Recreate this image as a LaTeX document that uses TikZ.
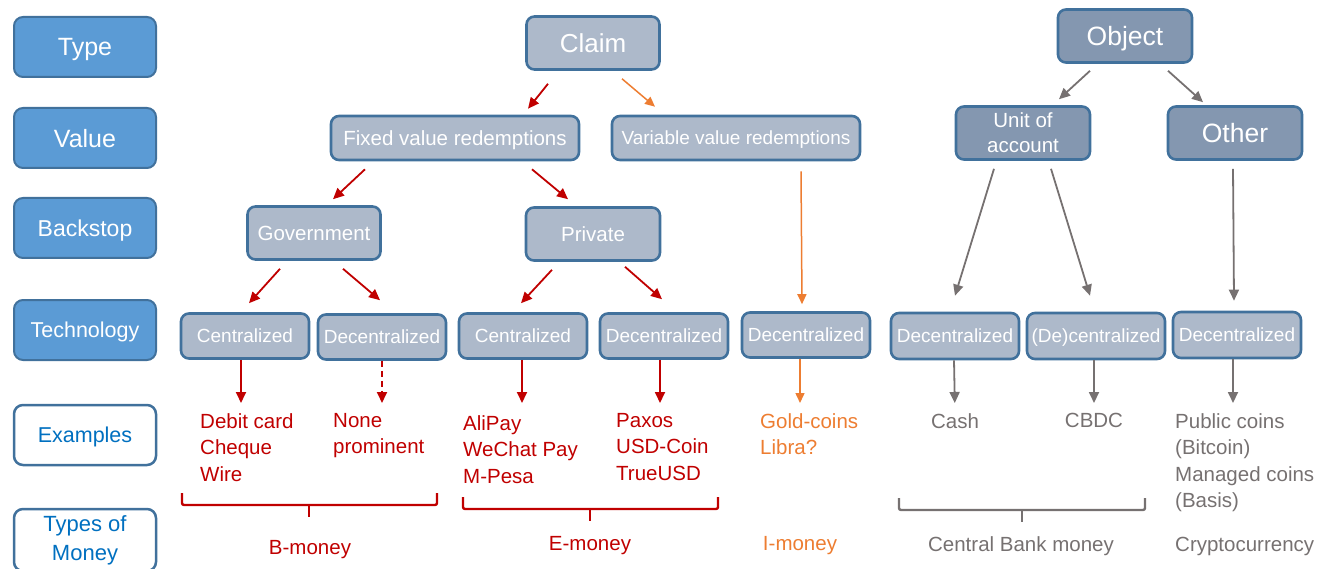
\documentclass[tikz,border=0pt]{standalone}
\usepackage{fontspec}
\setmainfont{Liberation Sans}
\usetikzlibrary{arrows.meta}
\definecolor{lblue}{HTML}{5B9BD5}
\definecolor{bord}{HTML}{41719C}
\definecolor{gbox}{HTML}{ADB9CA}
\definecolor{dbox}{HTML}{8497B0}
\definecolor{mred}{HTML}{C00000}
\definecolor{morange}{HTML}{ED7D31}
\definecolor{mgray}{HTML}{767171}
\definecolor{tblue}{HTML}{0070C0}
\newcommand\fsz[2]{\fontsize{#1}{#2}\selectfont}
\begin{document}
\begin{tikzpicture}[x=1pt,y=-1pt,
  rowbox/.style={draw=bord, line width=2pt, fill=lblue, rounded corners=9pt,
    minimum width=142pt, minimum height=60pt, text=white, inner sep=0pt, align=center},
  rowboxw/.style={rowbox, fill=white, text=tblue, line width=2.5pt},
  gbx/.style={draw=bord, line width=2.6pt, fill=gbox, rounded corners=8pt,
    text=white, inner sep=0pt, align=center, font=\fsz{19}{22}},
  dbx/.style={gbx, fill=dbox},
  oneline/.style={text depth=0pt},
  extext/.style={anchor=north west, inner sep=0pt, align=left, font=\fsz{20.5}{26.5}},
  montext/.style={anchor=base, inner sep=0pt, font=\fsz{20.5}{24}},
  rarr/.style={draw=mred, line width=1.8pt, -{Triangle[length=11pt,width=10pt]}},
  oarr/.style={draw=morange, line width=1.5pt, -{Triangle[length=10pt,width=9pt]}},
  garr/.style={draw=mgray, line width=1.8pt, -{Triangle[length=11pt,width=10pt]}},
  brace/.style={line width=2.4pt, rounded corners=2pt}
]
\useasboundingbox (0,0) rectangle (1319,569);

% left column
\node[rowbox, oneline, font=\fsz{25}{28}] (rtype) at (85,47) {Type};
\node[rowbox, oneline, font=\fsz{25}{28}] (rvalue) at (85,138) {Value};
\node[rowbox, oneline, font=\fsz{23}{26}] (rback) at (85,228) {Backstop};
\node[rowbox, oneline, font=\fsz{21.5}{24}] (rtech) at (85,330) {Technology};
\node[rowboxw, oneline, font=\fsz{21.5}{24}] (rex) at (85,435) {Examples};
\node[rowboxw, minimum height=62pt, font=\fsz{22}{29}] (rtypes) at (85,540) {Types of\\Money};

% claim tree
\node[gbx, oneline, minimum width=133pt, minimum height=53pt, font=\fsz{26}{28}] (claim) at (593,43) {Claim};
\node[gbx, oneline, minimum width=248pt, minimum height=44pt, font=\fsz{20.5}{24}] (fixed) at (455,138) {Fixed value redemptions};
\node[gbx, oneline, minimum width=248pt, minimum height=44pt, font=\fsz{19}{22}] (variable) at (736,138) {Variable value redemptions};
\node[gbx, oneline, minimum width=133pt, minimum height=53pt, font=\fsz{20.5}{24}] (gov) at (314,233) {Government};
\node[gbx, oneline, minimum width=134pt, minimum height=53pt, font=\fsz{20.5}{24}] (priv) at (593,234) {Private};
\node[gbx, oneline, minimum width=128pt, minimum height=45pt] (c1) at (245,336) {Centralized};
\node[gbx, oneline, minimum width=128pt, minimum height=45pt] (d1) at (382,337) {Decentralized};
\node[gbx, oneline, minimum width=128pt, minimum height=45pt] (c2) at (523,336) {Centralized};
\node[gbx, oneline, minimum width=128pt, minimum height=45pt] (d2) at (664,336) {Decentralized};
\node[gbx, oneline, minimum width=128pt, minimum height=45pt] (d3) at (806,335) {Decentralized};
\node[gbx, oneline, minimum width=128pt, minimum height=46pt] (d4) at (955,336) {Decentralized};
\node[gbx, oneline, minimum width=138pt, minimum height=46pt] (dc) at (1096,336) {(De)centralized};
\node[gbx, oneline, minimum width=128pt, minimum height=46pt] (d5) at (1237,335) {Decentralized};

% object tree
\node[dbx, oneline, minimum width=134pt, minimum height=53pt, font=\fsz{26.5}{28}] (object) at (1125,36) {Object};
\node[dbx, minimum width=134pt, minimum height=53pt, font=\fsz{20.5}{25}] (unit) at (1023,133) {Unit of\\account};
\node[dbx, oneline, minimum width=134pt, minimum height=53pt, font=\fsz{26.5}{28}] (other) at (1235,133) {Other};

% arrows
\draw[rarr] ([shift={(-45,13)}]claim.south) -- ([shift={(73,-6)}]fixed.north);
\draw[oarr] ([shift={(29,8)}]claim.south) -- ([shift={(-81,-8)}]variable.north);
\draw[rarr] ([shift={(-90,8)}]fixed.south) -- ([shift={(19,-6)}]gov.north);
\draw[rarr] ([shift={(77,8)}]fixed.south) -- ([shift={(-25,-7)}]priv.north);
\draw[rarr] ([shift={(-34,8)}]gov.south) -- ([shift={(4,-9)}]c1.north);
\draw[rarr] ([shift={(29,8)}]gov.south) -- ([shift={(-2,-13)}]d1.north);
\draw[rarr] ([shift={(-41,8)}]priv.south) -- ([shift={(-2,-9)}]c2.north);
\draw[rarr] ([shift={(32,5)}]priv.south) -- ([shift={(-2,-13)}]d2.north);
\draw[oarr] ([shift={(65,10)}]variable.south) -- ([shift={(-4,-7)}]d3.north);
\draw[garr] ([shift={(-35,7)}]object.south) -- ([shift={(36,-6)}]unit.north);
\draw[garr] ([shift={(43,7)}]object.south) -- ([shift={(-32,-3)}]other.north);
\draw[garr] ([shift={(-29,8)}]unit.south) -- ([shift={(0,-16)}]d4.north);
\draw[garr] ([shift={(28,8)}]unit.south) -- ([shift={(-6,-16)}]dc.north);
\draw[garr] ([shift={(-2,8)}]other.south) -- ([shift={(-3,-10)}]d5.north);

% examples
\node[extext, text=mred] (ex1) at (200,413) {Debit card\\Cheque\\Wire};
\node[extext, text=mred] (ex2) at (333,413) {None\\prominent};
\node[extext, text=mred] (ex3) at (463,415) {AliPay\\WeChat Pay\\M-Pesa};
\node[extext, text=mred] (ex4) at (616,413) {Paxos\\USD-Coin\\TrueUSD};
\node[extext, text=morange] (ex5) at (760,413) {Gold-coins\\Libra?};
\node[extext, anchor=north, text=mgray] (ex6) at (955,413) {Cash};
\node[extext, anchor=north, text=mgray] (ex7) at (1094,413) {CBDC};
\node[extext, text=mgray] (ex8) at (1175,413) {Public coins\\(Bitcoin)\\Managed coins\\(Basis)};

\draw[rarr, shorten >=10pt] ([xshift=-4]c1.south) -- ([xshift=-4]c1.south |- ex1.north);
\draw[rarr, shorten >=10pt, dash pattern=on 6pt off 4pt] (d1.south) -- (d1.south |- ex2.north);
\draw[rarr, shorten >=12pt] ([xshift=-1]c2.south) -- ([xshift=-1]c2.south |- ex3.north);
\draw[rarr, shorten >=10pt] ([xshift=-4]d2.south) -- ([xshift=-4]d2.south |- ex4.north);
\draw[oarr, shorten >=10pt] ([xshift=-6]d3.south) -- ([xshift=-6]d3.south |- ex5.north);
\draw[garr, shorten >=10pt] ([xshift=-1]d4.south) -- (ex6.north);
\draw[garr, shorten >=10pt] ([xshift=-2]dc.south) -- (ex7.north);
\draw[garr, shorten >=10pt] ([xshift=-4]d5.south) -- ([xshift=-4]d5.south |- ex8.north);

% braces
\draw[brace, mred] (182,493) -- (182,505) -- (437,505) -- (437,493);
\draw[brace, mred, rounded corners=0pt] (309,505) -- (309,517);
\draw[brace, mred] (463,497) -- (463,509) -- (718,509) -- (718,497);
\draw[brace, mred, rounded corners=0pt] (590,509) -- (590,521);
\draw[brace, mgray] (899,498) -- (899,510) -- (1145,510) -- (1145,498);
\draw[brace, mgray, rounded corners=0pt] (1022,510) -- (1022,522);

% money types
\node[montext, text=mred] (mb) at (310,554) {B-money};
\node[montext, text=mred] (me) at (590,550) {E-money};
\node[montext, text=morange] (mi) at (800,550) {I-money};
\node[montext, text=mgray] (mc) at (1021,551) {Central Bank money};
\node[montext, anchor=base west, text=mgray] (mk) at (1175,551) {Cryptocurrency};
\end{tikzpicture}
\end{document}
